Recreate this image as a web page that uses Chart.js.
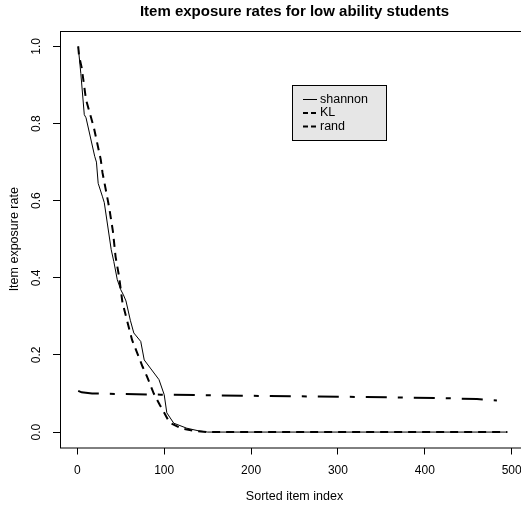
<!DOCTYPE html>
<html>
<head>
<meta charset="utf-8">
<script src="https://cdn.jsdelivr.net/npm/chart.js@4"></script>
<style>
  html, body { margin:0; padding:0; background:#fff; overflow:hidden; width:521px; height:506px; }
  canvas { display:block; }
</style>
</head>
<body>
<canvas id="c" width="540" height="506" style="width:540px;height:506px"></canvas>
<script>
(() => {
  "use strict";

  const titleText = "Item exposure rates for low ability students";
  const xTitle = "Sorted item index";
  const yTitle = "Item exposure rate";

  const xTicks = [0, 100, 200, 300, 400, 500];
  const yTicks = [0, 0.2, 0.4, 0.6, 0.8, 1.0];
  const yTickLabels = ["0.0", "0.2", "0.4", "0.6", "0.8", "1.0"];

  // shannon (solid)
  const shannonIdx  = [1, 4, 8, 10, 20, 22, 24, 29, 31, 39, 42, 46, 50, 53, 56, 61, 65, 73, 77, 84, 94, 100, 103, 111, 126, 140, 150, 495];
  const shannonRate = [1.0, 0.93, 0.823, 0.815, 0.715, 0.70, 0.645, 0.61, 0.595, 0.473, 0.442, 0.395, 0.369, 0.356, 0.34, 0.29, 0.257, 0.235, 0.187, 0.166, 0.136, 0.097, 0.05, 0.023, 0.010, 0.003, 0, 0];

  // KL (dashed)
  const klIdx  = [1, 2, 5, 10, 19, 27, 29, 35, 37, 41, 44, 48, 52, 63, 75, 80, 88, 95, 100, 106, 119, 135, 150, 495];
  const klRate = [1.0, 0.975, 0.945, 0.862, 0.79, 0.706, 0.672, 0.602, 0.577, 0.52, 0.455, 0.404, 0.335, 0.239, 0.17, 0.145, 0.10, 0.07, 0.05, 0.025, 0.010, 0.003, 0, 0];

  // rand (dot-dash)
  const randIdx  = [1, 5, 17, 96, 200, 326, 420, 460, 483];
  const randRate = [0.107, 0.103, 0.100, 0.097, 0.094, 0.091, 0.088, 0.0856, 0.082];

  const FONT = "'Liberation Sans', Arial, Helvetica, sans-serif";
  const pts = (xs, ys) => xs.map((x, i) => ({ x, y: ys[i] }));

  const series = [
    { label:"shannon", data:pts(shannonIdx, shannonRate), width:1, dash:[],              legendDash:[] },
    { label:"KL",      data:pts(klIdx, klRate),           width:2, dash:[8, 6],          legendDash:[5, 3] },
    { label:"rand",    data:pts(randIdx, randRate),       width:2, dash:[21, 11, 5, 11], legendDash:[5, 3] }
  ];

  const decor = {
    id: "decor",
    afterDraw(chart){
      const { ctx, chartArea: a, scales } = chart;
      ctx.save();
      // box
      ctx.strokeStyle = "#000";
      ctx.lineWidth = 1;
      ctx.setLineDash([]);
      ctx.strokeRect(Math.round(a.left) + 0.5, Math.round(a.top) + 0.5, a.right - a.left, a.bottom - a.top);

      ctx.fillStyle = "#000";
      // title
      ctx.font = `bold 15px ${FONT}`;
      ctx.textAlign = "center";
      ctx.textBaseline = "middle";
      const cx = (a.left + a.right) / 2;
      ctx.fillText(titleText, cx, 12);

      // x title
      ctx.font = `12.5px ${FONT}`;
      ctx.fillText(xTitle, cx, 497);

      // y tick labels (rotated)
      ctx.font = `12px ${FONT}`;
      yTicks.forEach((v, i) => {
        const py = scales.y.getPixelForValue(v);
        ctx.save();
        ctx.translate(37, py);
        ctx.rotate(-Math.PI / 2);
        ctx.fillText(yTickLabels[i], 0, 0);
        ctx.restore();
      });

      // y title
      ctx.font = `12.5px ${FONT}`;
      ctx.save();
      ctx.translate(15, (a.top + a.bottom) / 2);
      ctx.rotate(-Math.PI / 2);
      ctx.fillText(yTitle, 0, 0);
      ctx.restore();

      // legend
      const lx = 292.5, ly = 85.5, lw = 94, lh = 55;
      ctx.fillStyle = "#e6e6e6";
      ctx.fillRect(lx, ly, lw, lh);
      ctx.strokeRect(lx, ly, lw, lh);
      ctx.textAlign = "left";
      ctx.font = `12.5px ${FONT}`;
      series.forEach((s, i) => {
        const y = 99.5 + i * 13.5;
        ctx.strokeStyle = "#000";
        ctx.lineWidth = s.width;
        ctx.setLineDash(s.legendDash);
        ctx.beginPath();
        ctx.moveTo(303, y);
        ctx.lineTo(317, y);
        ctx.stroke();
        ctx.fillStyle = "#000";
        ctx.fillText(s.label, 320, y);
      });
      ctx.restore();
    }
  };

  new Chart(document.getElementById("c"), {
    type: "line",
    data: {
      datasets: series.map(s => ({
        label: s.label,
        data: s.data,
        borderColor: "#000",
        borderWidth: s.width,
        borderDash: s.dash,
        pointRadius: 0,
        tension: 0,
        fill: false
      }))
    },
    options: {
      responsive: false,
      animation: false,
      devicePixelRatio: 1,
      layout: { padding: { left: 0, top: 31, right: 11, bottom: 0 } },
      plugins: { legend: { display: false }, title: { display: false }, tooltip: { enabled: false } },
      scales: {
        x: {
          type: "linear",
          min: -19.96,
          max: 519.96,
          afterBuildTicks: sc => { sc.ticks = xTicks.map(v => ({ value: v })); },
          afterFit: sc => { sc.height = 58.5; },
          grid: { display: true, drawOnChartArea: false, drawTicks: true, tickLength: 7, color: "#000" },
          border: { display: false },
          ticks: { color: "#000", font: { family: FONT, size: 12 }, padding: 9, maxRotation: 0, autoSkip: false }
        },
        y: {
          type: "linear",
          min: -0.04,
          max: 1.04,
          afterBuildTicks: sc => { sc.ticks = yTicks.map(v => ({ value: v })); },
          afterFit: sc => { sc.width = 60; },
          grid: { display: true, drawOnChartArea: false, drawTicks: true, tickLength: 7, color: "#000" },
          border: { display: false },
          ticks: { display: false }
        }
      }
    },
    plugins: [decor]
  });
})();
</script>
</body>
</html>
